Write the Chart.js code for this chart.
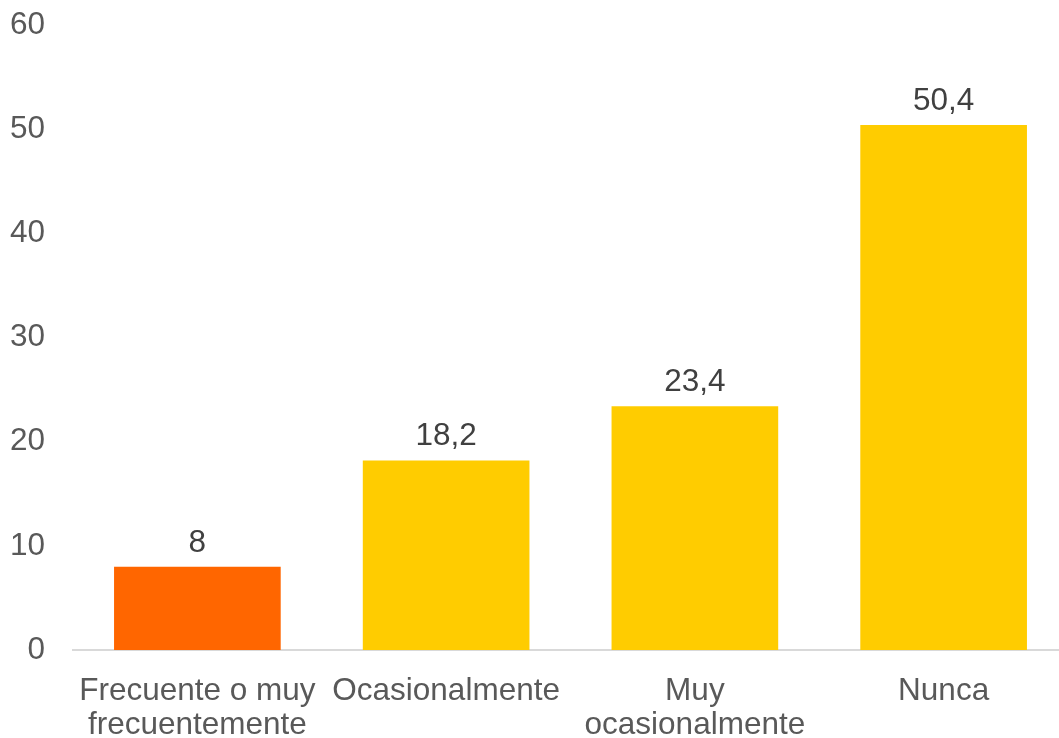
<!DOCTYPE html>
<html>
<head>
<meta charset="utf-8">
<script src="https://cdn.jsdelivr.net/npm/chart.js@4"></script>
<style>
html,body{margin:0;padding:0;background:#fff;overflow:hidden;}
#wrap{width:1068px;height:738px;}
</style>
</head>
<body>
<div id="wrap"><canvas id="c" width="1068" height="738"></canvas></div>
<script>
const categories = [["Frecuente o muy","frecuentemente"],"Ocasionalmente",["Muy","ocasionalmente"],"Nunca"];
const values = [8, 18.2, 23.4, 50.4];
const valueLabels = ["8", "18,2", "23,4", "50,4"];
const barColors = ["#FF6600", "#FFCC00", "#FFCC00", "#FFCC00"];
const yTicks = [0, 10, 20, 30, 40, 50, 60];

const FONT = "'Liberation Sans', Arial, sans-serif";

const labelPlugin = {
  id: 'valueLabels',
  afterDatasetsDraw(chart) {
    const ctx = chart.ctx;
    const meta = chart.getDatasetMeta(0);
    ctx.save();
    ctx.font = "31.5px " + FONT;
    ctx.fillStyle = "#404040";
    ctx.textAlign = "center";
    ctx.textBaseline = "alphabetic";
    meta.data.forEach((bar, i) => {
      ctx.fillText(valueLabels[i], bar.x, bar.y - 15);
    });
    ctx.restore();
  }
};

new Chart(document.getElementById('c'), {
  type: 'bar',
  data: {
    labels: categories,
    datasets: [{
      data: values,
      backgroundColor: barColors,
      borderWidth: 0,
      categoryPercentage: 1,
      barPercentage: 0.67
    }]
  },
  options: {
    responsive: false,
    animation: false,
    devicePixelRatio: 1,
    layout: { padding: { top: 25, left: 0, right: 0, bottom: 0 } },
    plugins: { legend: { display: false }, tooltip: { enabled: false } },
    scales: {
      x: {
        grid: { display: false, drawTicks: false },
        border: { display: true, color: '#D9D9D9', width: 2 },
        ticks: { color: '#595959', font: { family: FONT, size: 31.5, lineHeight: 1.08 }, padding: 24, maxRotation: 0, autoSkip: false },
        afterFit(scale) { scale.height = 88; scale.paddingLeft = 0; scale.paddingRight = 0; }
      },
      y: {
        min: 0, max: 60,
        grid: { display: false, drawTicks: false },
        border: { display: false },
        afterBuildTicks(scale) { scale.ticks = yTicks.map(v => ({ value: v })); },
        ticks: { color: '#595959', font: { family: FONT, size: 31.5 }, padding: 28 },
        afterFit(scale) { scale.width = 73; scale.paddingTop = 0; scale.paddingBottom = 0; }
      }
    }
  },
  plugins: [labelPlugin]
});
</script>
</body>
</html>
